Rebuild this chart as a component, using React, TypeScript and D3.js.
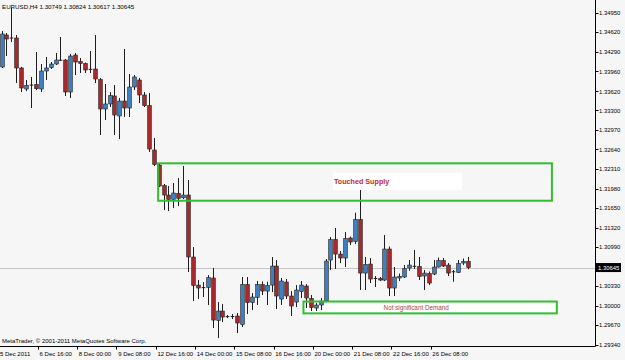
import React from "react";
import * as d3 from "d3";

// ---- data (EURUSD H4, bar index 0 = 5 Dec 2011 12:00) ----
const opens = [
  1.34033, 1.34573, 1.34523, 1.34523, 1.34016, 1.33661, 1.33728, 1.33737, 1.33661, 1.33965,
  1.34021, 1.34083, 1.34151, 1.34151, 1.3361, 1.34235, 1.34126, 1.34092, 1.33994, 1.33999,
  1.33821, 1.33323, 1.33408, 1.33543, 1.33205, 1.33458, 1.3334, 1.33695, 1.33813, 1.3356,
  1.33379, 1.3263, 1.32377, 1.3203, 1.3187, 1.31797, 1.31899, 1.31824, 1.3187, 1.30823,
  1.30349, 1.30307, 1.30307, 1.30468, 1.2975, 1.2991, 1.29817, 1.29809, 1.29826, 1.29682,
  1.30358, 1.30054, 1.30142, 1.30358, 1.30248, 1.30349, 1.3067, 1.30113, 1.304, 1.30164,
  1.30062, 1.3024, 1.30333, 1.30121, 1.29961, 1.30012, 1.30084, 1.30772, 1.31118, 1.30873,
  1.30806, 1.31144, 1.31084, 1.31456, 1.30552, 1.30704, 1.30468, 1.30459, 1.30434, 1.30958,
  1.30299, 1.30468, 1.30485, 1.30637, 1.3067, 1.30662, 1.30502, 1.30544, 1.30535, 1.30654,
  1.30763, 1.30687, 1.30578, 1.30561, 1.30721, 1.30749,
];
const highs = [
  1.34641, 1.34607, 1.35029, 1.34573, 1.34033, 1.33813, 1.33864, 1.34286, 1.34083, 1.34202,
  1.34117, 1.34269, 1.34539, 1.34168, 1.34252, 1.34269, 1.34185, 1.34109, 1.34303, 1.34573,
  1.33847, 1.33745, 1.3361, 1.33728, 1.33509, 1.34337, 1.33914, 1.33897, 1.33847, 1.3361,
  1.33593, 1.32833, 1.32411, 1.32056, 1.32022, 1.32073, 1.32157, 1.3236, 1.32124, 1.30992,
  1.30434, 1.304, 1.30518, 1.30637, 1.30062, 1.30028, 1.29843, 1.2986, 1.29876, 1.30485,
  1.30485, 1.30214, 1.30417, 1.30409, 1.30405, 1.30823, 1.30772, 1.30468, 1.30451, 1.30248,
  1.30349, 1.30417, 1.30366, 1.30181, 1.30045, 1.3013, 1.30789, 1.3116, 1.31313, 1.30924,
  1.31245, 1.31169, 1.31571, 1.31955, 1.30823, 1.30806, 1.30502, 1.30485, 1.31194, 1.31,
  1.30654, 1.30544, 1.30687, 1.30772, 1.30941, 1.30823, 1.30603, 1.30578, 1.30772, 1.30814,
  1.30806, 1.30721, 1.30603, 1.30772, 1.30797, 1.30824,
];
const lows = [
  1.34016, 1.34218, 1.34455, 1.33762, 1.3361, 1.33627, 1.3334, 1.33644, 1.3361, 1.33813,
  1.33999, 1.34066, 1.34134, 1.33543, 1.33509, 1.33897, 1.33931, 1.33931, 1.33931, 1.33762,
  1.32884, 1.33137, 1.33357, 1.32884, 1.32816, 1.33188, 1.33188, 1.33644, 1.33424, 1.33357,
  1.32597, 1.3236, 1.32005, 1.31617, 1.316, 1.3165, 1.31684, 1.31802, 1.30569, 1.30079,
  1.30113, 1.30147, 1.30012, 1.29623, 1.29454, 1.29724, 1.29792, 1.29775, 1.29539, 1.2964,
  1.2986, 1.29927, 1.30012, 1.30181, 1.30012, 1.30231, 1.29944, 1.30012, 1.30113, 1.29826,
  1.29978, 1.3013, 1.29961, 1.2991, 1.2991, 1.29927, 1.30062, 1.30603, 1.3062, 1.30721,
  1.30654, 1.31025, 1.31042, 1.30265, 1.30265, 1.30383, 1.30316, 1.30417, 1.30417, 1.30164,
  1.30164, 1.30417, 1.30468, 1.30591, 1.3062, 1.30434, 1.30265, 1.30349, 1.30518, 1.30645,
  1.30654, 1.30502, 1.30405, 1.30552, 1.30687, 1.30617,
];
const closes = [
  1.3459, 1.34506, 1.34521, 1.34016, 1.33678, 1.3372, 1.33726, 1.33666, 1.33965, 1.34016,
  1.34083, 1.34151, 1.34142, 1.3361, 1.34218, 1.34117, 1.34092, 1.33982, 1.33992, 1.3383,
  1.33323, 1.33408, 1.33551, 1.33222, 1.33458, 1.3334, 1.33695, 1.33864, 1.3356, 1.33379,
  1.32647, 1.32385, 1.32022, 1.3187, 1.31794, 1.31904, 1.31814, 1.3187, 1.30823, 1.30341,
  1.30299, 1.30305, 1.30476, 1.29758, 1.2991, 1.29809, 1.29815, 1.29826, 1.29708, 1.30358,
  1.30054, 1.30147, 1.30361, 1.30248, 1.30341, 1.3067, 1.30164, 1.30417, 1.30164, 1.29995,
  1.30265, 1.30349, 1.3013, 1.29969, 1.30012, 1.30079, 1.30755, 1.31118, 1.30873, 1.30806,
  1.31135, 1.31076, 1.31456, 1.30552, 1.30696, 1.30451, 1.30451, 1.30434, 1.30958, 1.30299,
  1.30485, 1.30493, 1.30628, 1.30687, 1.30662, 1.30493, 1.30552, 1.30383, 1.30654, 1.30763,
  1.3067, 1.30552, 1.30569, 1.30713, 1.30747, 1.30645,
];

const timeTickIndex = [7, 15, 23, 31, 39, 47, 55, 63, 71, 79, 87];
const timeTickLabels = [
  "6 Dec 16:00", "8 Dec 00:00", "9 Dec 08:00", "12 Dec 16:00", "14 Dec 00:00",
  "15 Dec 08:00", "16 Dec 16:00", "20 Dec 00:00", "21 Dec 08:00", "22 Dec 16:00", "26 Dec 08:00",
];
const firstDateLabel = "5 Dec 2011";

const priceTicks = [
  1.3495, 1.3462, 1.3429, 1.3396, 1.3362, 1.333, 1.3297, 1.3264, 1.3231,
  1.3198, 1.3165, 1.3132, 1.3099, 1.3033, 1.3, 1.2967, 1.2934,
];
const priceTickLabels = [
  "1.34950", "1.34620", "1.34290", "1.33960", "1.33620", "1.33300", "1.32970", "1.32640", "1.32310",
  "1.31980", "1.31650", "1.31320", "1.30990", "1.30330", "1.30000", "1.29670", "1.29340",
];
const currentPrice = 1.30645;
const currentPriceLabel = "1.30645";
const headerText = "EURUSD,H4  1.30749 1.30824 1.30617 1.30645";
const copyrightText = "MetaTrader, \u00a9 2001-2011 MetaQuotes Software Corp.";

// zones (rectangles drawn on the chart)
const zoneLabels = ["Touched Supply", "Not significant Demand"];
const zoneStart = [31.9, 61.5];
const zoneEnd = [112.1, 113.1];
const zoneTop = [1.32406, 1.30071];
const zoneBottom = [1.31774, 1.29871];

// ---- layout ----
const W = 625;
const H = 360;
const PLOT_RIGHT = 595.5;
const PLOT_BOTTOM = 346.5;
const BG = "#f6f6f6";
const UP = "#3e7fc2";
const DOWN = "#a7292c";
const FONT = "'Liberation Sans', Arial, sans-serif";

export default function App() {
  const x = d3.scaleLinear().domain([0, 120]).range([1.5, 1.5 + 120 * 4.91]);
  const y = d3.scaleLinear().domain([1.2934, 1.3495]).range([344.8, 12.7]);
  const bodyW = 3.6;

  return (
    <svg
      width={W}
      height={H}
      style={{ position: "absolute", left: 0, top: 0, display: "block" }}
      fontFamily={FONT}
    >
      <rect x={0} y={0} width={W} height={H} fill={BG} />

      {/* current price grid line */}
      <line
        x1={0}
        x2={PLOT_RIGHT}
        y1={Math.round(y(currentPrice)) + 0.5}
        y2={Math.round(y(currentPrice)) + 0.5}
        stroke="#c4c4c4"
        strokeWidth={1}
      />

      {/* demand zone interior (white) */}
      <rect
        x={x(zoneStart[1])}
        y={y(zoneTop[1])}
        width={x(zoneEnd[1]) - x(zoneStart[1])}
        height={y(zoneBottom[1]) - y(zoneTop[1])}
        fill="#ffffff"
      />
      {/* supply label background */}
      <rect x={x(67.5)} y={y(1.3225)} width={x(93.8) - x(67.5)} height={y(1.31955) - y(1.3225)} fill="#ffffff" />

      {/* candles */}
      {opens.map((o, i) => {
        const c = closes[i];
        const cx = Math.round(x(i)) + 0.5;
        const yO = y(o);
        const yC = y(c);
        const top = Math.min(yO, yC);
        const h = Math.abs(yO - yC);
        const up = c > o;
        return (
          <g key={i}>
            <line x1={cx} x2={cx} y1={y(highs[i])} y2={y(lows[i])} stroke="#1e1e1e" strokeWidth={1} />
            {h < 1.2 ? (
              <line x1={cx - bodyW / 2} x2={cx + bodyW / 2} y1={(yO + yC) / 2} y2={(yO + yC) / 2} stroke="#1e1e1e" strokeWidth={1} />
            ) : (
              <rect
                x={cx - bodyW / 2}
                y={top}
                width={bodyW}
                height={h}
                fill={up ? UP : DOWN}
                stroke="#1e1e1e"
                strokeWidth={0.6}
              />
            )}
          </g>
        );
      })}

      {/* zones outlines */}
      {zoneLabels.map((lbl, k) => (
        <rect
          key={lbl}
          x={x(zoneStart[k])}
          y={y(zoneTop[k])}
          width={x(zoneEnd[k]) - x(zoneStart[k])}
          height={y(zoneBottom[k]) - y(zoneTop[k])}
          fill="none"
          stroke="#2fbf2f"
          strokeWidth={2}
        />
      ))}
      <text x={x(67.7)} y={y(1.32105) + 2.6} fontSize={7.2} fontWeight="bold" fill="#c4262b">
        {zoneLabels[0]}
      </text>
      <text
        x={(x(zoneStart[1]) + x(zoneEnd[1])) / 2 - 14}
        y={(y(zoneTop[1]) + y(zoneBottom[1])) / 2 + 2.2}
        fontSize={6.3}
        fill="#a8454a"
        textAnchor="middle"
      >
        {zoneLabels[1]}
      </text>

      {/* header */}
      <text x={2} y={9} fontSize={6.2} fill="#000">
        {headerText}
      </text>
      <text x={2} y={343} fontSize={6} fill="#000">
        {copyrightText}
      </text>

      {/* axes */}
      <line x1={PLOT_RIGHT} x2={PLOT_RIGHT} y1={0} y2={PLOT_BOTTOM} stroke="#000" strokeWidth={1} />
      <line x1={0} x2={PLOT_RIGHT} y1={PLOT_BOTTOM} y2={PLOT_BOTTOM} stroke="#000" strokeWidth={1} />

      {priceTicks.map((p, k) => (
        <g key={p}>
          <line x1={PLOT_RIGHT} x2={PLOT_RIGHT + 3} y1={Math.round(y(p)) + 0.5} y2={Math.round(y(p)) + 0.5} stroke="#000" />
          <text x={599} y={y(p) + 2.2} fontSize={5.9} fill="#000">
            {priceTickLabels[k]}
          </text>
        </g>
      ))}

      {/* current price label */}
      <rect x={596} y={y(currentPrice) - 4.5} width={25} height={9} fill="#000" />
      <text x={598} y={y(currentPrice) + 2.2} fontSize={5.9} fill="#fff">
        {currentPriceLabel}
      </text>

      {/* time axis */}
      <text x={0} y={355.5} fontSize={6} fill="#000">
        {firstDateLabel}
      </text>
      {timeTickIndex.map((idx, k) => (
        <g key={idx}>
          <line
            x1={Math.round(x(idx) + 2) + 0.5}
            x2={Math.round(x(idx) + 2) + 0.5}
            y1={PLOT_BOTTOM}
            y2={PLOT_BOTTOM + 3}
            stroke="#000"
          />
          <text x={x(idx) + 3.7} y={355.5} fontSize={6} fill="#000">
            {timeTickLabels[k]}
          </text>
        </g>
      ))}
    </svg>
  );
}
